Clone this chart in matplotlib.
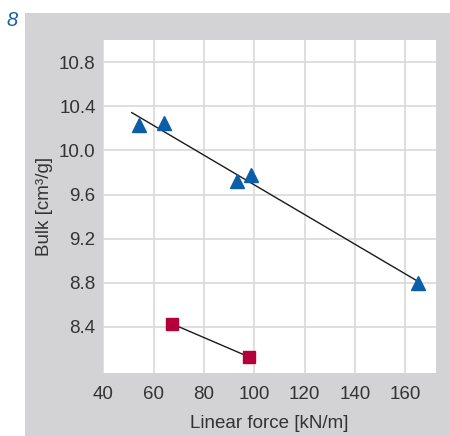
import numpy as np
import matplotlib.pyplot as plt

plt.rcParams['font.family'] = ['Liberation Sans', 'DejaVu Sans']

# triangles (blue) with fitted line
tri_force = [54.0, 64.0, 93.0, 98.5, 164.8]
tri_bulk = [10.23, 10.25, 9.72, 9.78, 8.80]
fit_range = [51.3, 164.8]

# squares (red) joined by a line
sq_force = [67.1, 97.7]
sq_bulk = [8.43, 8.13]

xticks = [40, 60, 80, 100, 120, 140, 160]
yticks = [8.4, 8.8, 9.2, 9.6, 10.0, 10.4, 10.8]

text_col = '#333333'
fig = plt.figure(figsize=(4.5, 4.36), dpi=100)
bg = fig.add_axes([25 / 450, 0, 1 - 25 / 450, 1 - 13 / 436], zorder=0)
bg.set_facecolor('#d3d3d5')
bg.set_xticks([])
bg.set_yticks([])
for s in bg.spines.values():
    s.set_visible(False)
fig.text(6 / 450, 1 - 20 / 436, '8', color='#1a5fa8', fontsize=14.5, style='italic',
         ha='left', va='center')

ax = fig.add_axes([103.3 / 450, 1 - 373.3 / 436, 332.4 / 450, 333.3 / 436], zorder=1)
ax.set_facecolor('white')

coef = np.polyfit(tri_force, tri_bulk, 1)
fx = np.array(fit_range)
ax.plot(fx, np.polyval(coef, fx), color='#1a1a1a', lw=1.0, zorder=3)
ax.plot(tri_force, tri_bulk, ls='none', marker='^', ms=10, color='#0b5ea8', zorder=4)
ax.plot(sq_force, sq_bulk, color='#1a1a1a', lw=1.0, zorder=3)
ax.plot(sq_force, sq_bulk, ls='none', marker='s', ms=9, color='#b3003b', zorder=4)

ax.set_xlim(40, 172)
ax.set_ylim(7.98, 11.0)
ax.set_xticks(xticks)
ax.set_yticks(yticks)
ax.set_yticklabels([f'{v:.1f}' for v in yticks])
ax.grid(True, color='#d9d9d9', lw=1.2)
ax.set_axisbelow(True)
for s in ax.spines.values():
    s.set_visible(False)
ax.tick_params(length=0, labelsize=13.5, colors=text_col)
ax.tick_params(axis='x', pad=9)
ax.tick_params(axis='y', pad=5.5)
ax.set_xlabel('Linear force [kN/m]', fontsize=13.5, color=text_col, labelpad=9)
ax.set_ylabel('Bulk [cm³/g]', fontsize=13.5, color=text_col, labelpad=4)

fig.savefig('out.png', dpi=100)
